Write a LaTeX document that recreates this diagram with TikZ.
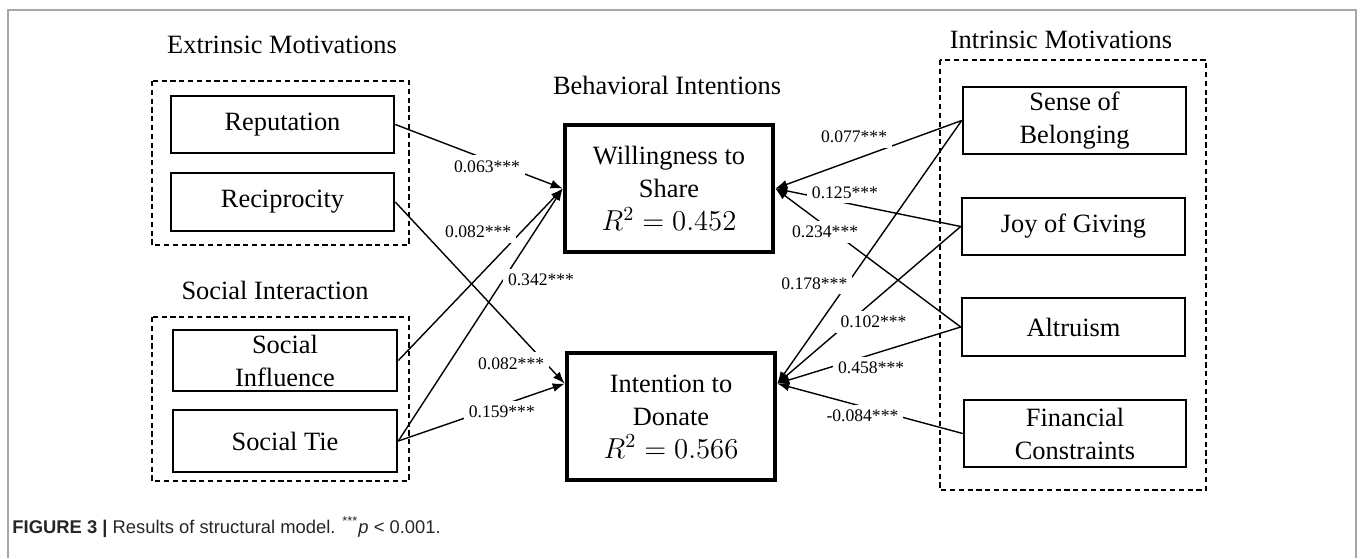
\documentclass[tikz,border=0pt]{standalone}
\usepackage{fontspec}
\setmainfont{Liberation Serif}
\newfontfamily\capfont{Liberation Sans}
\usetikzlibrary{calc,arrows.meta}

\newcommand{\rsq}[1]{{\fontsize{14.8}{16.5}\selectfont$R^2 = #1$}}

\begin{document}
\begin{tikzpicture}[x=0.5pt,y=-0.5pt,
        cbox/.style={draw, line width=1.3pt, align=center, inner sep=0pt, font=\fontsize{13.2}{16.5}\selectfont},
        ibox/.style={draw, line width=2.3pt, align=center, inner sep=0pt, minimum width=104pt, minimum height=63.5pt, font=\fontsize{13.2}{16.5}\selectfont},
        grp/.style={draw, line width=0.8pt, dash pattern=on 2.6pt off 1.8pt},
        hd/.style={font=\fontsize{13.2}{15}\selectfont},
        lbl/.style={fill=white, inner sep=2.5pt, font=\fontsize{8.8}{10}\selectfont},
        arr/.style={-{Latex[length=6pt,width=4.5pt]}, line width=0.7pt}]
    \useasboundingbox (0,0) rectangle (1360,558);
    \draw [gray!70, line width=0.8pt] (8,558) -- (8,10) -- (1356,10) -- (1356,558);

    % groups
    \draw [grp] (152,81) rectangle (409,245);
    \draw [grp] (152,317) rectangle (409,481);
    \draw [grp] (940,60) rectangle (1206,490);
    \node [hd] (hext) at (282,45) {Extrinsic Motivations};
    \node [hd] (hsoc) at (275,290) {Social Interaction};
    \node [hd] (hbeh) at (667,85) {Behavioral Intentions};
    \node [hd] (hint) at (1061,40) {Intrinsic Motivations};

    % constructs
    \node [cbox, minimum width=111.5pt, minimum height=28.5pt] (rep) at (282.5,124.5) {Reputation};
    \node [cbox, minimum width=111.5pt, minimum height=29pt] (rec) at (282.5,202) {Reciprocity};
    \node [cbox, minimum width=112pt, minimum height=30.5pt] (sinf) at (285,360.5) {Social\\Influence};
    \node [cbox, minimum width=112pt, minimum height=31pt] (stie) at (285,441) {Social Tie};
    \node [cbox, minimum width=111.5pt, minimum height=33.5pt] (sob) at (1074.5,120.5) {Sense of\\Belonging};
    \node [cbox, minimum width=111.5pt, minimum height=28.5pt] (jog) at (1073.5,226.5) {Joy of Giving};
    \node [cbox, minimum width=111.5pt, minimum height=29pt] (alt) at (1073.5,327) {Altruism};
    \node [cbox, minimum width=111pt, minimum height=33.5pt] (fin) at (1075,433.5) {Financial\\Constraints};

    \node [ibox] (wts) at (669,188.5) {Willingness to\\Share\\\rsq{0.452}};
    \node [ibox] (itd) at (671,416.5) {Intention to\\Donate\\\rsq{0.566}};
    \coordinate (itdL) at ($(itd.north west)!0.25!(itd.south west)$);
    \coordinate (itdR) at ($(itd.north east)!0.25!(itd.south east)$);

    % paths
    \draw [arr] (rep.east) -- node [lbl, pos=.56, xshift=-1pt, yshift=-3pt] {0.063***} (wts.west);
    \draw [arr] (rec.east) -- node [lbl, pos=.79, xshift=-9pt, yshift=-9pt] {0.082***} (itdL);
    \draw [arr] (sinf.east) -- node [lbl, pos=.62, xshift=-11pt, yshift=11pt] {0.082***} (wts.west);
    \draw [arr] (stie.east) -- node [lbl, pos=.71, xshift=13pt, yshift=-9pt] {0.342***} (wts.west);
    \draw [arr] (stie.east) -- node [lbl, pos=.61, xshift=1pt, yshift=-3pt] {0.159***} (itdL);

    \draw [arr] (sob.west) -- node [lbl, pos=.54, xshift=-3.5pt, yshift=10pt] {0.077***} (wts.east);
    \draw [arr] (jog.west) -- node [lbl, pos=.635, xshift=1pt, yshift=5pt] {0.125***} (wts.east);
    \draw [arr] (alt.west) -- node [lbl, pos=.715, xshift=-1.5pt, yshift=-2pt] {0.234***} (wts.east);
    \draw [arr] (sob.west) -- node [lbl, pos=.68, xshift=-11pt, yshift=8pt] {0.178***} (itdR);
    \draw [arr] (jog.west) -- node [lbl, pos=.53, xshift=5pt, yshift=-6pt] {0.102***} (itdR);
    \draw [arr] (alt.west) -- node [lbl, pos=.51, xshift=2pt, yshift=-6pt] {0.458***} (itdR);
    \draw [arr] (fin.west) -- node [lbl, pos=.53, xshift=-1pt, yshift=-4.5pt] {-0.084***} (itdR);

    % caption
    \node [anchor=west, inner sep=0pt, font=\capfont\fontsize{9.2}{11}\selectfont, text=black!85] (cap) at (12,527)
        {\textbf{FIGURE 3 |} Results of structural model. \textsuperscript{***}\textit{p} < 0.001.};
\end{tikzpicture}
\end{document}
